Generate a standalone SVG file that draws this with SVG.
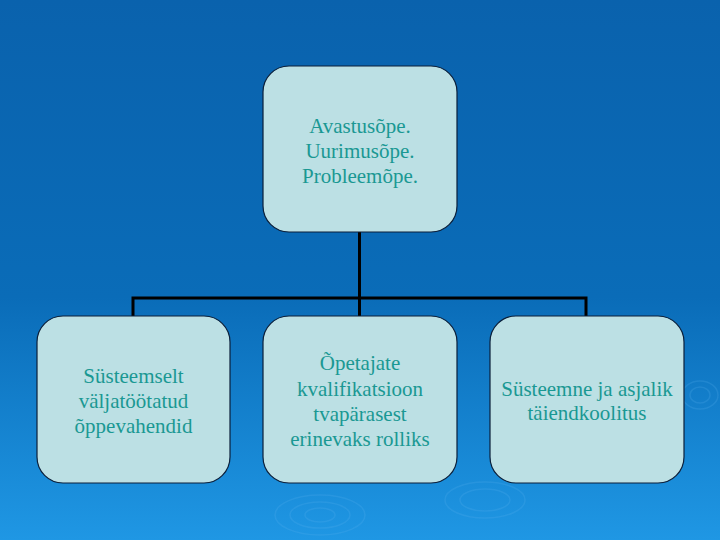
<svg xmlns="http://www.w3.org/2000/svg" width="720" height="540" viewBox="0 0 720 540">
  <defs>
    <linearGradient id="bg" x1="0" y1="0" x2="0" y2="1">
      <stop offset="0" stop-color="#0a62ad"/>
      <stop offset="0.55" stop-color="#0a6cb8"/>
      <stop offset="1" stop-color="#1f97e4"/>
    </linearGradient>
    <style>
      .box { fill: #bce0e4; stroke: #0b1f3a; stroke-width: 1.2; }
      .lbl { font-family: "Liberation Serif", "Times New Roman", serif; font-size: 21px; fill: #1a9893; text-anchor: middle; }
      .conn { fill: none; stroke: #000; stroke-width: 3; }
      .rip { fill: none; stroke: #5fb6ee; stroke-opacity: 0.2; stroke-width: 1.5; }
    </style>
  </defs>
  <rect width="720" height="540" fill="url(#bg)"/>
  <g id="ripples">
    <ellipse class="rip" cx="320" cy="515" rx="45" ry="20"/>
    <ellipse class="rip" cx="320" cy="515" rx="30" ry="13"/>
    <ellipse class="rip" cx="320" cy="515" rx="15" ry="7"/>
    <ellipse class="rip" cx="485" cy="500" rx="40" ry="18"/>
    <ellipse class="rip" cx="485" cy="500" rx="25" ry="11"/>
    <ellipse class="rip" cx="700" cy="395" rx="18" ry="14"/>
    <ellipse class="rip" cx="700" cy="395" rx="10" ry="8"/>
  </g>
  <g id="connectors">
    <path class="conn" d="M359.5 232 V298"/>
    <path class="conn" d="M133 316 V298 H586 V316"/>
    <path class="conn" d="M359.5 298 V316"/>
  </g>
  <g id="node-top">
    <rect class="box" x="263" y="66" width="194" height="166" rx="26"/>
    <text class="lbl" x="360" y="133">Avastusõpe.</text>
    <text class="lbl" x="360" y="158">Uurimusõpe.</text>
    <text class="lbl" x="360" y="183">Probleemõpe.</text>
  </g>
  <g id="node-left">
    <rect class="box" x="37" y="316" width="193" height="167" rx="26"/>
    <text class="lbl" x="133.5" y="383">Süsteemselt</text>
    <text class="lbl" x="133.5" y="408">väljatöötatud</text>
    <text class="lbl" x="133.5" y="433">õppevahendid</text>
  </g>
  <g id="node-mid">
    <rect class="box" x="263" y="316" width="194" height="167" rx="26"/>
    <text class="lbl" x="360" y="370">Õpetajate</text>
    <text class="lbl" x="360" y="396">kvalifikatsioon</text>
    <text class="lbl" x="360" y="421">tvapärasest</text>
    <text class="lbl" x="360" y="446">erinevaks rolliks</text>
  </g>
  <g id="node-right">
    <rect class="box" x="490" y="316" width="194" height="167" rx="26"/>
    <text class="lbl" x="587" y="396">Süsteemne ja asjalik</text>
    <text class="lbl" x="587" y="420">täiendkoolitus</text>
  </g>
</svg>
